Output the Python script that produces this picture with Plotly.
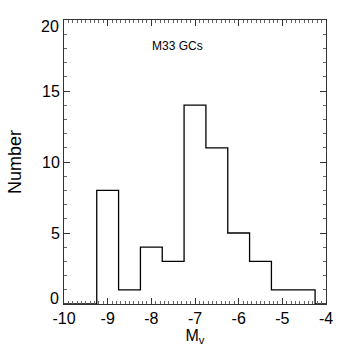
import plotly.graph_objects as go

# Histogram bin edges (left edges + final right edge) and counts
bin_edges = [-10.0, -9.25, -8.75, -8.25, -7.75, -7.25, -6.75, -6.25, -5.75, -5.25, -4.75, -4.25, -4.0]
counts = [0, 8, 1, 4, 3, 14, 11, 5, 3, 1, 1, 0]

x_ticks = [-10, -9, -8, -7, -6, -5, -4]
y_ticks = [5, 10, 15]          # drawn by the axis
y_end_ticks = [0, 20]          # drawn nudged inward, as in the reference

xs = list(bin_edges)
ys = counts + [counts[-1]]

FAM = "Liberation Sans, Arial, sans-serif"

fig = go.Figure()
fig.add_trace(go.Scatter(
    x=xs, y=ys, mode="lines", line_shape="hv",
    line=dict(color="black", width=1.3), hoverinfo="skip", showlegend=False,
))

fig.add_annotation(x=-7.4, y=18.2, text="M33 GCs", showarrow=False,
                   font=dict(family=FAM, size=12, color="black"))

for v, shift in zip(y_end_ticks, [6, -6]):
    fig.add_annotation(x=0, xref="paper", y=v, yref="y", text=str(v), showarrow=False,
                       xanchor="right", xshift=-3, yshift=shift,
                       font=dict(family=FAM, size=16, color="black"))

font_main = dict(family=FAM, size=16, color="black")

fig.update_layout(
    width=346, height=346,
    margin=dict(l=64, r=20, t=20, b=42),
    paper_bgcolor="white", plot_bgcolor="white",
    font=font_main,
    xaxis=dict(
        range=[-10, -4], tickvals=x_ticks, ticktext=[str(v) for v in x_ticks],
        showgrid=False, zeroline=False, showline=True, linecolor="#333", linewidth=1,
        mirror="allticks", ticks="inside", ticklen=6, tickcolor="#333",
        minor=dict(dtick=0.1, ticks="inside", ticklen=3, tickcolor="#666", showgrid=False),
        title=dict(text="M<sub>v</sub>", font=dict(family=FAM, size=16)),
        tickfont=font_main, automargin=False,
    ),
    yaxis=dict(
        range=[0, 20], tickvals=y_ticks, ticktext=[str(v) for v in y_ticks],
        showgrid=False, zeroline=False, showline=True, linecolor="#333", linewidth=1,
        mirror="allticks", ticks="inside", ticklen=6, tickcolor="#333",
        minor=dict(dtick=1, ticks="inside", ticklen=3, tickcolor="#666", showgrid=False),
        title=dict(text="Number", font=dict(family=FAM, size=18)),
        tickfont=font_main, automargin=False, ticklabelstandoff=0,
    ),
)

fig.write_html("out.html", config={"displayModeBar": False},
               post_script="document.body.style.margin='0';")
